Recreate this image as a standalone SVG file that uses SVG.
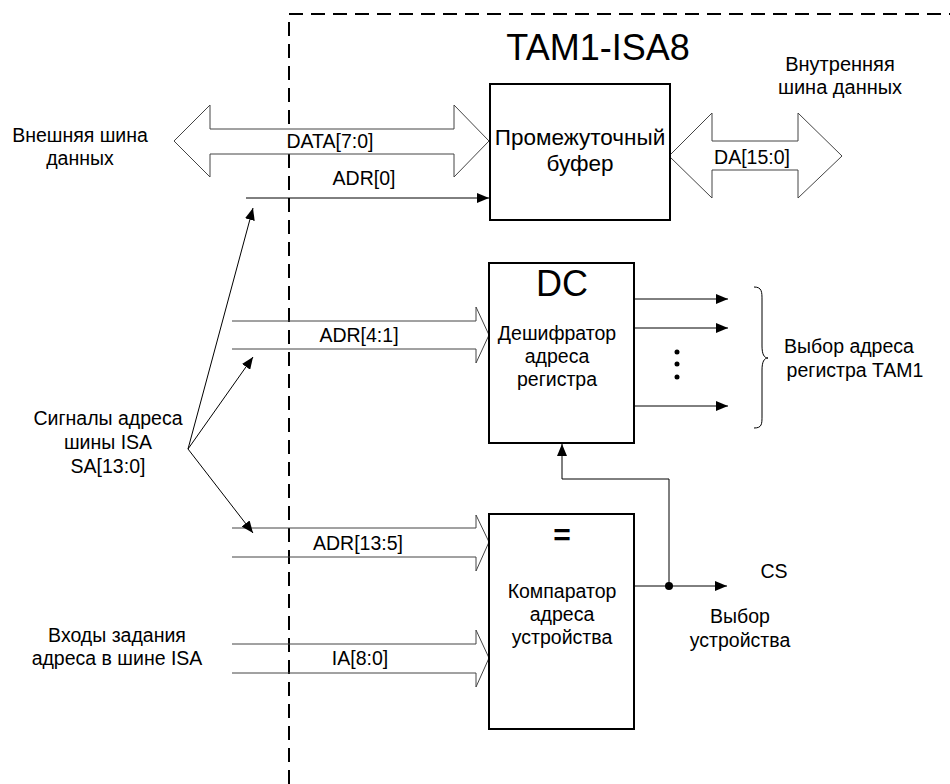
<svg xmlns="http://www.w3.org/2000/svg" width="950" height="784" viewBox="0 0 950 784">
<defs>
<marker id="ah" markerWidth="12" markerHeight="10" refX="12" refY="5" orient="auto" markerUnits="userSpaceOnUse">
<path d="M0,0 L12,5 L0,10 Z" fill="#000"/>
</marker>
</defs>
<style>
text{font-family:"Liberation Sans",Arial,sans-serif;fill:#000}
.t16{font-size:19.5px}
.t18{font-size:22.5px}
.big{font-size:36px}
.c{text-anchor:middle}
.box{fill:#fff;stroke:#000;stroke-width:2}
.bus{fill:#fff;stroke:#444;stroke-width:1}
.busl{fill:none;stroke:#444;stroke-width:1}
.ln{fill:none;stroke:#000;stroke-width:1}
.dash{fill:none;stroke:#000;stroke-width:2;stroke-dasharray:14 8}
</style>
<rect width="950" height="784" fill="#fff"/>
<g id="boundary">
<path class="dash" d="M289,784 L289,14 L950,14"/>
<text x="598" y="60" class="c big">TAM1-ISA8</text>
</g>
<g id="connectors">
<polygon class="bus" points="174,141 210,105 210,129 454,129 454,105 489,141 454,177 454,154 210,154 210,177"/>
<polygon class="bus" points="669,156 712,113 712,141 798,141 798,113 842,156 798,198 798,170 712,170 712,198"/>
<polyline class="busl" points="232,321 476,321 476,307 489,335 476,363 476,349 232,349"/>
<polyline class="busl" points="232,528 476,528 476,515 489,542 476,571 476,557 232,557"/>
<polyline class="busl" points="232,644 476,644 476,630 489,658 476,687 476,673 232,673"/>
<line class="ln" x1="246" y1="198" x2="489" y2="198" marker-end="url(#ah)"/>
<line class="ln" x1="188" y1="449" x2="253" y2="208" marker-end="url(#ah)"/>
<line class="ln" x1="188" y1="449" x2="253" y2="357" marker-end="url(#ah)"/>
<line class="ln" x1="188" y1="449" x2="253" y2="533" marker-end="url(#ah)"/>
<line class="ln" x1="634" y1="299" x2="728" y2="299" marker-end="url(#ah)"/>
<line class="ln" x1="634" y1="328" x2="728" y2="328" marker-end="url(#ah)"/>
<line class="ln" x1="634" y1="406" x2="728" y2="406" marker-end="url(#ah)"/>
<circle cx="677" cy="352" r="2.5" fill="#000"/>
<circle cx="677" cy="364" r="2.5" fill="#000"/>
<circle cx="677" cy="377" r="2.5" fill="#000"/>
<line class="ln" x1="634" y1="586" x2="727" y2="586" marker-end="url(#ah)"/>
<polyline class="ln" points="669,586 669,479 562,479 562,444" marker-end="url(#ah)"/>
<circle cx="669" cy="586" r="4" fill="#000"/>
<path class="ln" d="M754,287 C762,287 762,292 762,300 L762,346 C762,354 764,358 768,358 C764,358 762,362 762,370 L762,416 C762,424 762,428 754,428"/>
<text x="330" y="148" class="t16 c">DATA[7:0]</text>
<text x="364" y="185" class="t16 c">ADR[0]</text>
<text x="752" y="164" class="t16 c">DA[15:0]</text>
<text x="359" y="342" class="t16 c">ADR[4:1]</text>
<text x="358" y="550" class="t16 c">ADR[13:5]</text>
<text x="360" y="665" class="t16 c">IA[8:0]</text>
</g>
<g id="buffer">
<rect class="box" x="490" y="84" width="180" height="136"/>
<text x="580" y="145" class="t18 c">Промежуточный</text>
<text x="580" y="171" class="t18 c">буфер</text>
</g>
<g id="decoder">
<rect class="box" x="489" y="263" width="145" height="180"/>
<text x="562" y="296" class="c big">DC</text>
<text x="557" y="340" class="t16 c">Дешифратор</text>
<text x="557" y="363" class="t16 c">адреса</text>
<text x="557" y="386" class="t16 c">регистра</text>
</g>
<g id="comparator">
<rect class="box" x="489" y="514" width="145" height="215"/>
<text x="562" y="545" class="c" style="font-size:30px;font-weight:bold">=</text>
<text x="562" y="598" class="t16 c">Компаратор</text>
<text x="562" y="621" class="t16 c">адреса</text>
<text x="562" y="644" class="t16 c">устройства</text>
</g>
<g id="labels">
<text x="80" y="142" class="t16 c">Внешняя шина</text>
<text x="80" y="165" class="t16 c">данных</text>
<text x="840" y="71" class="c" style="font-size:20px">Внутренняя</text>
<text x="840" y="94" class="c" style="font-size:20px">шина данных</text>
<text x="849" y="353" class="t16 c">Выбор адреса</text>
<text x="855" y="377" class="t16 c">регистра ТАМ1</text>
<text x="108" y="425" class="t16 c">Сигналы адреса</text>
<text x="108" y="449" class="t16 c">шины ISA</text>
<text x="108" y="473" class="t16 c">SA[13:0]</text>
<text x="117" y="642" class="t16 c">Входы задания</text>
<text x="117" y="665" class="t16 c">адреса в шине ISA</text>
<text x="774" y="578" class="t16 c">CS</text>
<text x="740" y="623" class="t16 c">Выбор</text>
<text x="740" y="647" class="t16 c">устройства</text>
</g>
</svg>
